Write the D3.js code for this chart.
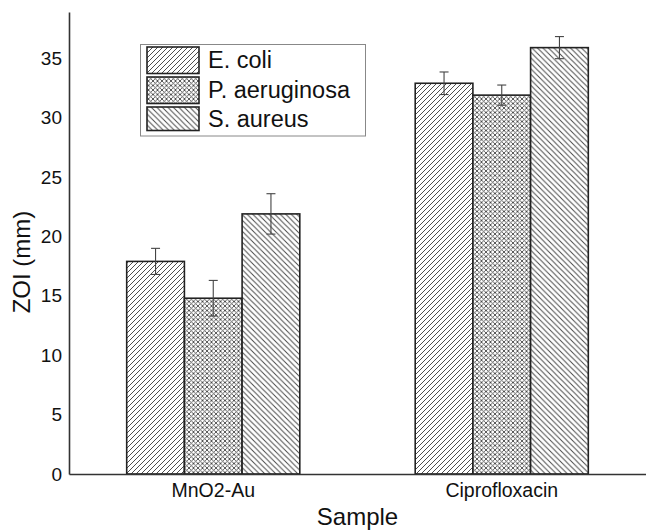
<!DOCTYPE html>
<html>
<head>
<meta charset="utf-8">
<script src="https://cdn.jsdelivr.net/npm/d3@7"></script>
<style>
  html, body { margin: 0; padding: 0; background: #fff; }
  svg { display: block; font-family: "Liberation Sans", Arial, sans-serif; }
</style>
</head>
<body>
<svg id="chart" width="646" height="530"></svg>
<script>
// Zone of inhibition (mm) per sample and organism, with error (SD)
const samples = ["MnO2-Au", "Ciprofloxacin"];
const organisms = ["E. coli", "P. aeruginosa", "S. aureus"];
const ecoliMean = [17.9, 32.9];
const ecoliErr = [1.1, 0.95];
const paeruginosaMean = [14.8, 31.9];
const paeruginosaErr = [1.5, 0.85];
const saureusMean = [21.9, 35.9];
const saureusErr = [1.7, 0.93];
const yTicks = [0, 5, 10, 15, 20, 25, 30, 35];

const seriesMeans = [ecoliMean, paeruginosaMean, saureusMean];
const seriesErrs = [ecoliErr, paeruginosaErr, saureusErr];
const patternIds = ["hatch-fwd", "hatch-cross", "hatch-back"];

const rows = [];
samples.forEach((s, i) => {
  organisms.forEach((o, j) => {
    rows.push({ sample: s, organism: o, value: seriesMeans[j][i], err: seriesErrs[j][i], pat: patternIds[j] });
  });
});

const svg = d3.select("#chart");
const plot = { left: 69, right: 646, top: 12, bottom: 474 };

// hatch patterns
const defs = svg.append("defs");
function linePattern(id, size, paths, sw, color) {
  const p = defs.append("pattern")
    .attr("id", id).attr("patternUnits", "userSpaceOnUse")
    .attr("width", size).attr("height", size);
  p.append("rect").attr("width", size).attr("height", size).attr("fill", "#fff");
  p.append("path").attr("d", paths).attr("stroke", color)
    .attr("stroke-width", sw).attr("fill", "none");
}
linePattern("hatch-fwd", 5, "M-1,1 L1,-1 M0,5 L5,0 M4,6 L6,4", 0.95, "#444");
linePattern("hatch-back", 5.5, "M-1,4.5 L1,6.5 M0,0 L5.5,5.5 M4.5,-1 L6.5,1", 0.95, "#444");
linePattern("hatch-cross", 4.5,
  "M-1,1 L1,-1 M0,4.5 L4.5,0 M3.5,5.5 L5.5,3.5 M-1,3.5 L1,5.5 M0,0 L4.5,4.5 M3.5,-1 L5.5,1", 0.88, "#444");

const x0 = d3.scaleBand().domain(samples).range([plot.left, plot.right]).paddingInner(0).paddingOuter(0);
const x1 = d3.scaleBand().domain(organisms)
  .range([x0.bandwidth() * 0.2, x0.bandwidth() * 0.8]).padding(0);
const y = d3.scaleLinear().domain([0, 38.9]).range([plot.bottom, plot.top]);

// bars
svg.append("g").selectAll("rect").data(rows).join("rect")
  .attr("x", d => x0(d.sample) + x1(d.organism))
  .attr("y", d => y(d.value))
  .attr("width", x1.bandwidth())
  .attr("height", d => y(0) - y(d.value))
  .attr("fill", d => `url(#${d.pat})`)
  .attr("stroke", "#222")
  .attr("stroke-width", 1.6);

// error bars
const cap = 4.5;
const eg = svg.append("g").attr("stroke", "#444").attr("stroke-width", 1.1);
rows.forEach(d => {
  const cx = x0(d.sample) + x1(d.organism) + x1.bandwidth() / 2;
  const y1 = y(d.value + d.err), y2 = y(d.value - d.err);
  eg.append("line").attr("x1", cx).attr("x2", cx).attr("y1", y1).attr("y2", y2);
  eg.append("line").attr("x1", cx - cap).attr("x2", cx + cap).attr("y1", y1).attr("y2", y1);
  eg.append("line").attr("x1", cx - cap).attr("x2", cx + cap).attr("y1", y2).attr("y2", y2);
});

// axes
const yAxis = svg.append("g").attr("transform", `translate(${plot.left},0)`)
  .call(d3.axisLeft(y).tickValues(yTicks).tickSize(0).tickPadding(7));
yAxis.select(".domain").attr("stroke", "#333").attr("stroke-width", 1.6);
yAxis.selectAll("text").attr("font-size", 19).attr("fill", "#111")
  .attr("font-family", "Liberation Sans, Arial, sans-serif");

const xAxis = svg.append("g").attr("transform", `translate(0,${plot.bottom})`)
  .call(d3.axisBottom(x0).tickSize(0).tickPadding(9));
xAxis.select(".domain").attr("stroke", "#333").attr("stroke-width", 1.6);
xAxis.selectAll("text").attr("font-size", 19.5).attr("fill", "#111")
  .attr("font-family", "Liberation Sans, Arial, sans-serif");

// axis titles
svg.append("text").attr("x", (plot.left + plot.right) / 2).attr("y", 525)
  .attr("text-anchor", "middle").attr("font-size", 24).attr("fill", "#111").text("Sample");
svg.append("text")
  .attr("transform", `translate(30,262) rotate(-90)`)
  .attr("text-anchor", "middle").attr("font-size", 24).attr("fill", "#111").text("ZOI (mm)");

// legend
const lg = svg.append("g");
lg.append("rect").attr("x", 140.5).attr("y", 44.5).attr("width", 225).attr("height", 91.5)
  .attr("fill", "#fff").attr("stroke", "#888").attr("stroke-width", 1);
organisms.forEach((o, j) => {
  const ry = 47 + j * 30;
  lg.append("rect").attr("x", 147).attr("y", ry).attr("width", 52).attr("height", j === 2 ? 23.5 : 26.5)
    .attr("fill", `url(#${patternIds[j]})`).attr("stroke", "#222").attr("stroke-width", 1.6);
  lg.append("text").attr("x", 208).attr("y", ry + 13 + (j === 2 ? -1 : 0))
    .attr("dominant-baseline", "central").attr("font-size", 23.5).attr("fill", "#111").text(o);
});
</script>
</body>
</html>
